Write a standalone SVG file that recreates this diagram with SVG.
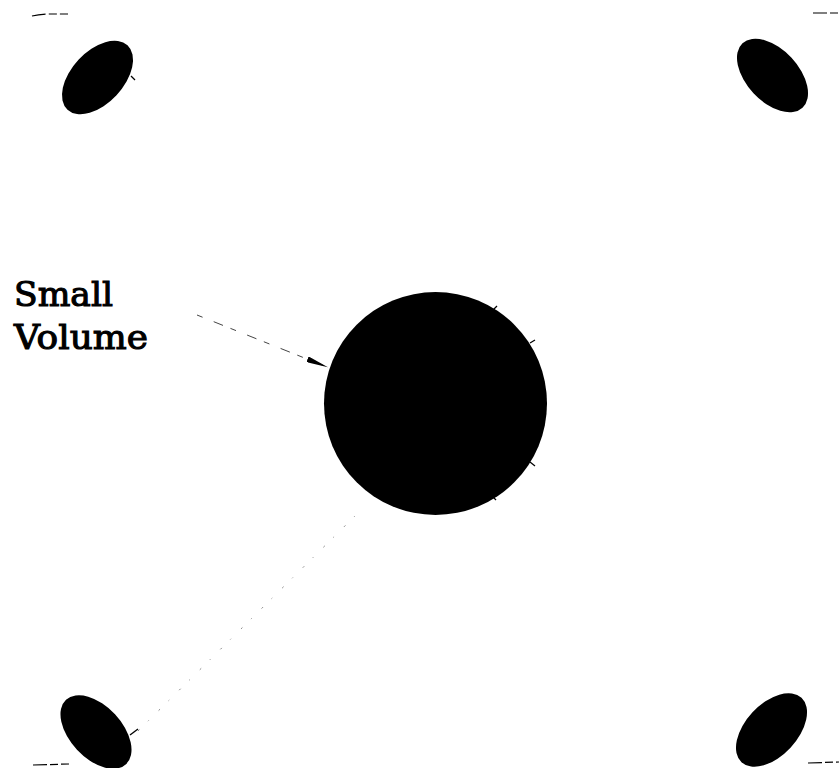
<svg xmlns="http://www.w3.org/2000/svg" width="839" height="768" viewBox="0 0 839 768">
<style>
.blob{fill:#000}
.tick{stroke:#000;stroke-width:1.3;fill:none}
.faint{stroke:#888;stroke-width:1;fill:none;stroke-dasharray:2 12 1 14}
.corner{stroke:#000;stroke-width:1.2;fill:none;stroke-dasharray:14 3 8 3}
.lbl{font-family:"DejaVu Serif","Liberation Serif",serif;font-size:34px;fill:#000;stroke:#000;stroke-width:1.1}
</style>
<defs>
<marker id="ah" viewBox="0 0 22 6" refX="21" refY="3" markerWidth="22" markerHeight="6" markerUnits="userSpaceOnUse" orient="auto">
<path d="M0,0 L22,3 L0,6 Z" fill="#000"/>
</marker>
</defs>
<rect width="839" height="768" fill="#fff"/>
<g id="corners">
<path class="corner" d="M32,16 Q40,14 50,14 L68,14"/>
<path class="corner" d="M813,13 L839,13"/>
<path class="corner" d="M33,765 L69,764"/>
<path class="corner" d="M808,763 L839,762"/>
</g>
<g id="ellipse-tl">
<ellipse class="blob" cx="97.5" cy="77.5" rx="44" ry="26" transform="rotate(-47 97.5 77.5)"/>
<path class="tick" d="M131,76 L135,80"/>
</g>
<g id="ellipse-tr">
<ellipse class="blob" cx="772.5" cy="75.5" rx="44" ry="26" transform="rotate(47 772.5 75.5)"/>
</g>
<g id="ellipse-bl">
<ellipse class="blob" cx="96" cy="732" rx="44" ry="26" transform="rotate(47 96 732)"/>
<path class="tick" d="M130,735 L138,729"/>
</g>
<g id="ellipse-br">
<ellipse class="blob" cx="771.5" cy="730" rx="44" ry="26" transform="rotate(-47 771.5 730)"/>
</g>
<g id="small-volume">
<circle class="blob" cx="435.5" cy="403.5" r="111.5"/>
<path class="tick" d="M493,310 L497,306"/>
<path class="tick" d="M530,343 L535,340"/>
<path class="tick" d="M530,462 L535,466"/>
<path class="tick" d="M492,496 L496,500"/>
</g>
<g id="label">
<text class="lbl" x="14" y="306" textLength="99" lengthAdjust="spacingAndGlyphs">Small</text>
<text class="lbl" x="14" y="349" textLength="134" lengthAdjust="spacingAndGlyphs">Volume</text>
</g>
<g id="connectors">
<path d="M197,315 L327,367" stroke="#444" stroke-width="1" fill="none" stroke-dasharray="6 12 10 8" marker-end="url(#ah)"/>
<path class="faint" d="M138,731 L362,509"/>
</g>
</svg>
